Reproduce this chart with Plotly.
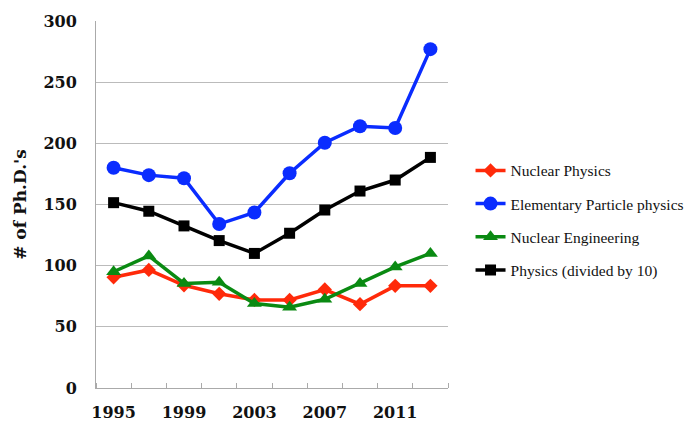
import plotly.graph_objects as go

years = [1995, 1997, 1999, 2001, 2003, 2005, 2007, 2009, 2011, 2013]
tick_years = [1995, 1999, 2003, 2007, 2011]
nuclear_physics = [90.5, 96.5, 84, 77, 72, 72, 80.5, 68.5, 83.5, 83.5]
elementary_particle = [180, 174, 171.5, 134, 143.5, 175.5, 200.5, 214, 212.5, 277]
nuclear_engineering = [95, 108, 85.5, 86.5, 69, 66, 72.5, 85.5, 99, 110]
physics_div10 = [151.5, 144.5, 132.5, 120.5, 110, 126.5, 145.5, 161, 170, 188.5]

series = [
    ("Nuclear Physics", nuclear_physics, "#FF2A0A", "diamond", 11),
    ("Elementary Particle physics", elementary_particle, "#0A2CFF", "circle", 14),
    ("Nuclear Engineering", nuclear_engineering, "#0A8A12", "triangle-up", 13),
    ("Physics (divided by 10)", physics_div10, "#000000", "square", 11),
]

fig = go.Figure()
for i, (name, vals, color, sym, size) in enumerate(series):
    fig.add_trace(go.Scatter(
        x=years, y=vals, name=name, mode="lines+markers",
        line=dict(color=color, width=3.5),
        marker=dict(color=color, symbol=sym, size=size),
        legendgroup=f"g{i}",
    ))

serif = "DejaVu Serif"
fig.update_layout(
    width=695, height=422,
    margin=dict(l=96, r=247, t=21, b=34, autoexpand=False),
    paper_bgcolor="white", plot_bgcolor="white",
    showlegend=True,
    legend=dict(x=1.064, y=0.638, xanchor="left", yanchor="top",
                font=dict(family="Liberation Serif", size=15.5, color="#111"),
                tracegroupgap=10, itemwidth=30, bgcolor="rgba(0,0,0,0)"),
    xaxis=dict(range=[1994, 2014], tickvals=tick_years, ticktext=[str(y) for y in tick_years],
               showgrid=False, showline=True, linecolor="#AAAAAA", linewidth=1,
               ticks="", tickfont=dict(family=serif, size=16, color="#111", weight="bold"),
               minor=dict(tickvals=list(range(1994, 2015, 2)), ticks="inside",
                          ticklen=5, tickcolor="#AAAAAA", showgrid=False),
               zeroline=False, automargin=False, ticklabelstandoff=10),
    yaxis=dict(range=[0, 300], dtick=50, showgrid=True, gridcolor="#BBBBBB", gridwidth=1,
               showline=True, linecolor="#AAAAAA", linewidth=1, ticks="",
               tickfont=dict(family=serif, size=16, color="#111", weight="bold"),
               title=dict(text="# of Ph.D.'s",
                          font=dict(family=serif, size=17, color="#111", weight="bold"),
                          standoff=12),
               zeroline=False, ticklabelstandoff=15, automargin=False),
)
fig.write_html("out.html", config={"displayModeBar": False},
               post_script="document.body.style.margin='0';document.body.style.overflow='hidden';")
